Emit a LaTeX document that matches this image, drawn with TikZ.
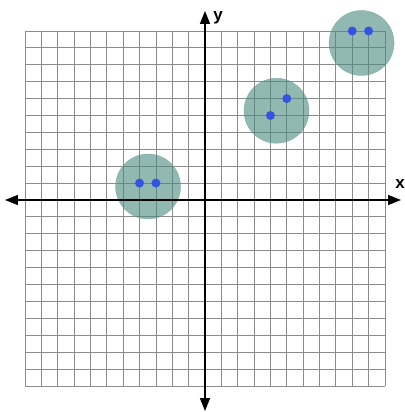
\documentclass[tikz,border=0pt]{standalone}
\usepackage{fontspec}
\setsansfont{Liberation Sans}
\usetikzlibrary{arrows.meta}
\definecolor{blobfill}{RGB}{72,138,127}
\definecolor{blobedge}{RGB}{110,160,150}
\definecolor{dotblue}{RGB}{52,84,224}
\tikzset{
  gridline/.style={draw=black!45, line width=0.8pt},
  axisline/.style={line width=1.6pt, -{Triangle[length=13pt,width=10pt]}},
  blob/.style={circle, minimum size=65pt, inner sep=0pt, fill=blobfill, fill opacity=0.6, draw=blobedge, draw opacity=0.6, line width=0.5pt},
  pt/.style={circle, minimum size=9pt, inner sep=0pt, fill=dotblue},
  axlabel/.style={font=\sffamily\bfseries\fontsize{17}{17}\selectfont, inner sep=0pt}
}
\begin{document}
\begin{tikzpicture}[x=16.36pt,y=16.9pt]
\useasboundingbox (-205pt,-212pt) rectangle (199pt,200pt);
% grid
\foreach \i in {-11,...,11} \draw[gridline] (\i,-11) -- (\i,10);
\foreach \j in {-11,...,10} \draw[gridline] (-11,\j) -- (11,\j);
% clusters
\node[blob] (c1) at (-3.48,0.8) {};
\node[blob] (c2) at (4.37,5.28) {};
\node[blob] (c3) at (9.57,9.29) {};
% axes
\coordinate (o) at (0,0);
\coordinate (xl) at (-200pt,0);
\coordinate (xr) at (196pt,0);
\coordinate (yb) at (0,-211pt);
\coordinate (yt) at (0,189pt);
\draw[axisline] (o) -- (xl);
\draw[axisline] (o) -- (xr);
\draw[axisline] (o) -- (yb);
\draw[axisline] (o) -- (yt);
\node[axlabel] (lx) at (195pt,16pt) {x};
\node[axlabel] (ly) at (13pt,182pt) {y};
% points
\node[pt] (p1) at (-4,1) {};
\node[pt] (p2) at (-3,1) {};
\node[pt] (p3) at (4,5) {};
\node[pt] (p4) at (5,6) {};
\node[pt] (p5) at (9,10) {};
\node[pt] (p6) at (10,10) {};
\end{tikzpicture}
\end{document}
